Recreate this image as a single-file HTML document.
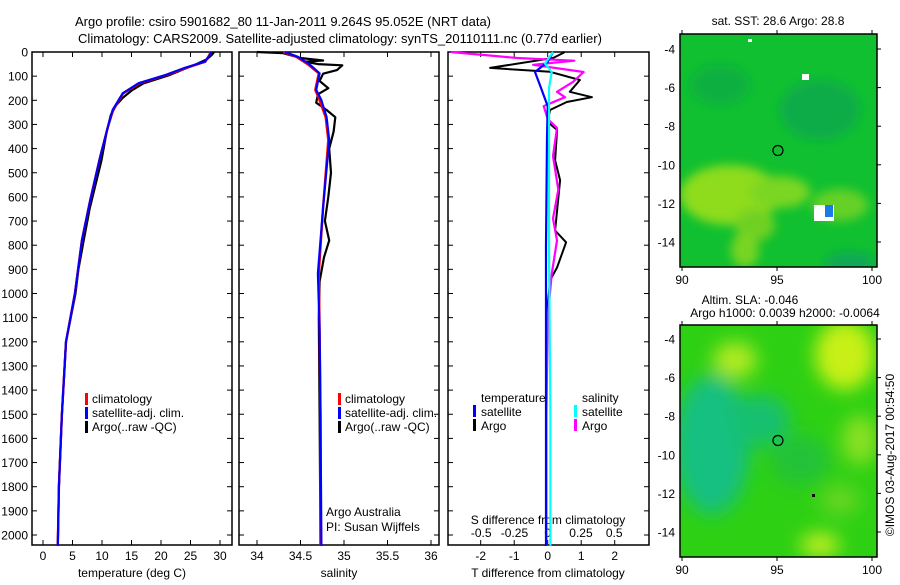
<!DOCTYPE html>
<html><head><meta charset="utf-8">
<style>
html,body{margin:0;padding:0;background:#fff;}
body{width:900px;height:580px;overflow:hidden;font-family:"Liberation Sans",sans-serif;}
svg text{font-family:"Liberation Sans",sans-serif;}
</style></head>
<body>
<svg id="chart" width="900" height="580" viewBox="0 0 900 580" xmlns="http://www.w3.org/2000/svg">
<defs>
<filter id="blur1" x="-20%" y="-20%" width="140%" height="140%"><feGaussianBlur stdDeviation="5"/></filter>
<filter id="blur2" x="-20%" y="-20%" width="140%" height="140%"><feGaussianBlur stdDeviation="9"/></filter>
<clipPath id="clipMap1"><rect x="680" y="34" width="197" height="233"/></clipPath>
<clipPath id="clipMap2"><rect x="680" y="325" width="197" height="232"/></clipPath>
</defs>
<text x="283" y="26" font-size="13" text-anchor="middle">Argo profile: csiro 5901682_80 11-Jan-2011 9.264S 95.052E (NRT data)</text>
<text x="340" y="43" font-size="13" text-anchor="middle">Climatology: CARS2009. Satellite-adjusted climatology: synTS_20110111.nc (0.77d earlier)</text>
<g id="g"></g>
</svg>
<script>
// ---- data ----
const depthTicks=[0,100,200,300,400,500,600,700,800,900,1000,1100,1200,1300,1400,1500,1600,1700,1800,1900,2000];
const tempTicks=[0,5,10,15,20,25,30];
const salTicks=[34,34.5,35,35.5,36];
const tdTicks=[-2,-1,0,1,2];
const sdTicks=[-0.5,-0.25,0,0.25,0.5];
const sdTickLabels=["-0.5","-0.25","0","0.25","0.5"];

const tDepth=[0,12,40,66,95,129,171,240,310,434,614,780,1000,1200,1500,1800,2045];
const tClim=[28.4,28.2,27.5,24.3,21.0,16.4,13.6,11.9,11.0,9.7,8.0,6.6,5.4,3.9,3.2,2.7,2.5];
const tSat=[28.5,28.3,27.4,24.0,20.8,16.2,13.5,11.8,11.0,9.7,8.0,6.6,5.4,3.9,3.2,2.7,2.5];
const tArgoDepth=[0,10,30,50,70,95,130,160,190,220,260,330,450,550,650,780,900,1000,1200,1500,1800,2045];
const tArgo=[29.0,28.7,27.8,26.0,24.0,21.5,17.0,15.0,13.5,12.4,11.5,10.8,9.9,8.9,7.9,6.9,6.0,5.5,3.9,3.2,2.7,2.5];

const sDepth=[0,20,50,88,157,200,270,365,643,917,1153,1500,2045];
const sClim=[34.3,34.45,34.58,34.71,34.67,34.72,34.79,34.82,34.76,34.71,34.72,34.73,34.73];
const sSat=[34.32,34.47,34.6,34.72,34.68,34.74,34.8,34.83,34.76,34.7,34.72,34.73,34.74];
const sArgoDepth=[0,5,15,25,35,40,50,55,75,90,120,150,175,210,240,270,330,400,500,600,700,780,850,950,1100,1500,2045];
const sArgo=[34.0,34.3,34.4,34.5,34.76,34.55,34.7,34.98,34.92,34.76,34.72,34.82,34.7,34.68,34.8,34.9,34.88,34.83,34.85,34.82,34.78,34.83,34.77,34.72,34.71,34.72,34.73];

const dDepthT=[0,4,25,66,82,116,165,187,207,240,290,323,448,531,739,788,892,946,1100,1500,2045];
const dTArgo=[0.5,0.46,0.16,-1.72,0.07,0.96,0.66,1.32,0.57,0.07,0.0,0.28,0.22,0.37,0.22,0.55,0.28,0.07,-0.03,-0.05,-0.05];
const dDepthTs=[0,41,83,138,224,360,800,1500,2045];
const dTSat=[0.16,0.0,-0.38,-0.23,0.0,-0.02,-0.05,-0.05,-0.05];
const dDepthS=[0,25,36,53,83,124,165,187,224,278,315,431,570,690,780,920,1100,1500,2045];
const dSArgo=[-0.73,-0.23,0.2,-0.11,0.27,0.19,0.07,0.13,-0.03,0.0,0.07,0.04,0.08,0.04,0.07,0.03,0.0,-0.01,-0.01];
const dDepthSs=[0,48,83,150,300,800,1500,2045];
const dSSat=[0.04,-0.02,0.03,0.01,0.01,0.01,0.02,0.02];

const lonTicks=[90,95,100];
const latTicks=[-4,-6,-8,-10,-12,-14];

// ---- axes ----
const NS="http://www.w3.org/2000/svg";
const G=document.getElementById('g');
function el(tag,attrs,parent){const e=document.createElementNS(NS,tag);for(const k in attrs)e.setAttribute(k,attrs[k]);(parent||G).appendChild(e);return e;}
const yD=d=>52+d*0.2415;
const PB=545;
const xT=t=>43+t*5.9;
const xS=s=>257+(s-34)*87;
const xTD=v=>547.7+v*33.5;
const xSD=v=>547.7+v*133;

function line(xf,depths,vals,color,w,name){
  const p=el('polyline',{points:depths.map((d,i)=>xf(vals[i]).toFixed(1)+','+yD(d).toFixed(1)).join(' '),fill:'none',stroke:color,'stroke-width':w,'stroke-linejoin':'round'});
  
  
}
function panel(x0,x1,name){
  const r=el('rect',{x:x0,y:52,width:x1-x0,height:PB-52,fill:'#fff',stroke:'#000','stroke-width':1.5});
  
  
  depthTicks.forEach(d=>{
    el('line',{x1:x0,x2:x0+5,y1:yD(d),y2:yD(d),stroke:'#000'});
    el('line',{x1:x1-5,x2:x1,y1:yD(d),y2:yD(d),stroke:'#000'});
  });
}
function xticks(vals,xf,labels,ylab){
  vals.forEach((v,i)=>{
    el('line',{x1:xf(v),x2:xf(v),y1:52,y2:57,stroke:'#000'});
    el('line',{x1:xf(v),x2:xf(v),y1:PB-5,y2:PB,stroke:'#000'});
    if(labels){const t=el('text',{x:xf(v),y:ylab,'font-size':12,'text-anchor':'middle'});t.textContent=labels[i];
      
      }
  });
}
function txt(x,y,s,name,opts){const t=el('text',Object.assign({x:x,y:y,'font-size':12},opts||{}));t.textContent=s;
  
  return t;}
function mark(x,y,color){el('rect',{x:x,y:y-6,width:3,height:12,fill:color});}

depthTicks.forEach(d=>{txt(28,yD(d)+4.5,String(d),'y-tick-label',{'text-anchor':'end'});});

// panel 1
panel(32,232,'temperature-panel');
xticks(tempTicks,xT,tempTicks.map(String),560);
txt(132,577,'temperature (deg C)','x-axis-title-temperature',{'text-anchor':'middle'});
line(xT,tArgoDepth,tArgo,'#000',2.2,'temp-argo-line');
line(xT,tDepth,tClim,'#f00',2.4,'temp-clim-line');
line(xT,tDepth,tSat,'#00f',2.2,'temp-sat-line');
mark(85,399,'#f00');txt(92,403,'climatology','legend-climatology');
mark(85,413,'#00f');txt(92,417,'satellite-adj. clim.','legend-satellite');
mark(85,427,'#000');txt(92,431,'Argo(..raw -QC)','legend-argo');

// panel 2
panel(239,439,'salinity-panel');
xticks(salTicks,xS,salTicks.map(String),560);
txt(339,577,'salinity','x-axis-title-salinity',{'text-anchor':'middle'});
line(xS,sArgoDepth,sArgo,'#000',2.2,'sal-argo-line');
line(xS,sDepth,sClim,'#f00',2.4,'sal-clim-line');
line(xS,sDepth,sSat,'#00f',2.2,'sal-sat-line');
mark(338,399,'#f00');txt(345,403,'climatology','legend-climatology-2');
mark(338,413,'#00f');txt(345,417,'satellite-adj. clim.','legend-satellite-2');
mark(338,427,'#000');txt(345,431,'Argo(..raw -QC)','legend-argo-2');
txt(326,516,'Argo Australia','credit-argo-australia');
txt(326,531,'PI: Susan Wijffels','credit-pi');

// panel 3
panel(448,649,'difference-panel');
xticks(tdTicks,xTD,tdTicks.map(String),560);
sdTicks.forEach((v,i)=>{txt(xSD(v),537,sdTickLabels[i],'s-diff-tick-label',{'text-anchor':'middle'});});
txt(548,524,'S difference from climatology','s-diff-axis-title',{'text-anchor':'middle'});
txt(548,577,'T difference from climatology','t-diff-axis-title',{'text-anchor':'middle'});
line(xTD,dDepthT,dTArgo,'#000',2,'tdiff-argo-line');
line(xSD,dDepthS,dSArgo,'#f0f',2.2,'sdiff-argo-line');
line(xTD,dDepthTs,dTSat,'#00f',2.2,'tdiff-sat-line');
line(xSD,dDepthSs,dSSat,'#0ff',2.2,'sdiff-sat-line');
txt(481,402,'temperature','legend-temperature-header');
mark(473,411,'#00f');txt(481,416,'satellite','legend-t-satellite');
mark(473,425,'#000');txt(481,430,'Argo','legend-t-argo');
txt(582,402,'salinity','legend-salinity-header');
mark(574,411,'#0ff');txt(582,416,'satellite','legend-s-satellite');
mark(574,425,'#f0f');txt(582,430,'Argo','legend-s-argo');

// ---- maps ----
const xL=lon=>682+(lon-90)*19;
function mapAxes(top,bot,latY,name){
  const r=el('rect',{x:680,y:top,width:197,height:bot-top,fill:'none',stroke:'#000','stroke-width':1.5});
  
  
  lonTicks.forEach(l=>{el('line',{x1:xL(l),x2:xL(l),y1:bot,y2:bot+4,stroke:'#000'});el('line',{x1:xL(l),x2:xL(l),y1:top-4,y2:top,stroke:'#000'});
    txt(xL(l),bot+17,String(l),'map-lon-label',{'text-anchor':'middle'});});
  latTicks.forEach(l=>{const y=latY(l);el('line',{x1:877,x2:881,y1:y,y2:y,stroke:'#000'});
    txt(675,y+4.5,String(l),'map-lat-label',{'text-anchor':'end'});});
}
const yM1=lat=>49+(-4-lat)*19.3;
const yM2=lat=>339+(-4-lat)*19.3;
// map1 SST
const m1=el('g',{'clip-path':'url(#clipMap1)'});
el('rect',{x:680,y:34,width:197,height:233,fill:'#10c030'},m1);
const b1=el('g',{filter:'url(#blur1)'},m1);
el('ellipse',{cx:730,cy:195,rx:50,ry:30,fill:'#8edc1c'},b1);
el('ellipse',{cx:780,cy:192,rx:30,ry:16,fill:'#7ad622'},b1);
el('ellipse',{cx:840,cy:205,rx:28,ry:16,fill:'#66d026'},b1);
el('ellipse',{cx:755,cy:225,rx:20,ry:16,fill:'#70d024'},b1);
el('ellipse',{cx:745,cy:250,rx:14,ry:18,fill:'#78d424'},b1);
el('ellipse',{cx:820,cy:110,rx:40,ry:30,fill:'#0aac48'},b1);
el('ellipse',{cx:720,cy:85,rx:30,ry:20,fill:'#0eb040'},b1);
el('ellipse',{cx:850,cy:262,rx:25,ry:10,fill:'#08a858'},b1);
el('rect',{x:748,y:39,width:4,height:3,fill:'#fff'},m1);
el('rect',{x:802,y:74,width:7,height:6,fill:'#fff'},m1);
el('rect',{x:814,y:205,width:20,height:16,fill:'#fff'},m1);
el('rect',{x:825,y:205,width:8,height:12,fill:'#1a7ae8'},m1);
mapAxes(34,267,yM1,'sst-map');
el('circle',{cx:xL(95.05),cy:yM1(-9.26),r:5,fill:'none',stroke:'#000','stroke-width':1.2});
txt(778,25,'sat. SST: 28.6 Argo: 28.8','sst-map-title',{'text-anchor':'middle'});
// map2 SLA
const m2=el('g',{'clip-path':'url(#clipMap2)'});
el('rect',{x:680,y:325,width:197,height:232,fill:'#2ed014'},m2);
const b2=el('g',{filter:'url(#blur2)'},m2);
el('ellipse',{cx:712,cy:445,rx:38,ry:70,fill:'#12c080'},b2);
el('ellipse',{cx:760,cy:420,rx:30,ry:25,fill:'#14c070'},b2);
el('ellipse',{cx:845,cy:355,rx:30,ry:35,fill:'#c8f018'},b2);
el('ellipse',{cx:735,cy:360,rx:22,ry:18,fill:'#b0ea22'},b2);
el('ellipse',{cx:860,cy:440,rx:18,ry:25,fill:'#88e020'},b2);
el('ellipse',{cx:820,cy:545,rx:20,ry:12,fill:'#c0ee20'},b2);
el('ellipse',{cx:840,cy:500,rx:20,ry:15,fill:'#66d624'},b2);
el('ellipse',{cx:800,cy:460,rx:30,ry:25,fill:'#22c238'},b2);
mapAxes(325,557,yM2,'sla-map');
el('circle',{cx:xL(95.05),cy:yM2(-9.26),r:5,fill:'none',stroke:'#000','stroke-width':1.2});
el('rect',{x:812,y:494,width:3,height:3,fill:'#000'});
txt(750,304,'Altim. SLA: -0.046','sla-map-title',{'text-anchor':'middle'});
txt(785,317,'Argo h1000: 0.0039 h2000: -0.0064','sla-map-subtitle',{'text-anchor':'middle'});
txt(0,0,'©IMOS 03-Aug-2017 00:54:50','timestamp-credit',{'text-anchor':'middle',transform:'translate(894,455) rotate(-90)'});
</script>
</body></html>
